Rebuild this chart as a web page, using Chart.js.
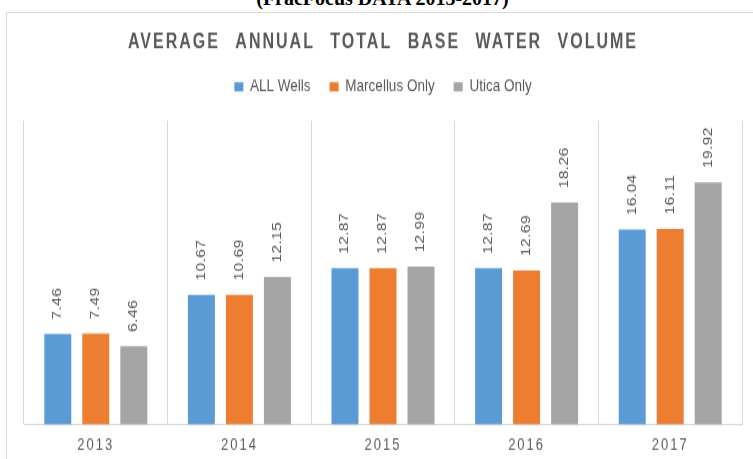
<!DOCTYPE html>
<html>
<head>
<meta charset="utf-8">
<script src="https://cdn.jsdelivr.net/npm/chart.js@4"></script>
<style>
html,body{margin:0;padding:0;background:#fff;overflow:hidden;width:753px;height:459px;position:relative;}
#frame{position:absolute;left:6px;top:12px;width:800px;height:500px;border:1px solid #d9d9d9;box-sizing:border-box;}
#cap{position:absolute;left:6px;width:753px;top:-12.5px;text-align:center;font:bold 20px 'Liberation Serif',serif;line-height:20px;color:#000;white-space:nowrap;}
#wrap{position:absolute;left:0;top:0;width:753px;height:353px;transform-origin:0 0;transform:scaleY(1.3003);}
canvas{display:block;}
</style>
</head>
<body>
<div id="frame"></div>
<div id="cap">(FracFocus DATA 2013-2017)</div>
<div id="wrap"><canvas id="c" width="753" height="353" style="width:753px;height:353px"></canvas></div>
<script>
// ---- data ----
const categories = ['2013', '2014', '2015', '2016', '2017'];
const seriesNames = ['ALL Wells', 'Marcellus Only', 'Utica Only'];
const allWells = [7.46, 10.67, 12.87, 12.87, 16.04];
const marcellusOnly = [7.49, 10.69, 12.87, 12.69, 16.11];
const uticaOnly = [6.46, 12.15, 12.99, 18.26, 19.92];
const titleText = 'AVERAGE ANNUAL TOTAL BASE WATER VOLUME';

// ---- style ----
const FONT = "'Liberation Sans', Arial, sans-serif";
const TEXT_COLOR = '#595959';
const COLORS = ['#5B9BD5', '#ED7D31', '#A5A5A5'];
const LEGEND_GAP = 9.3;
const LABEL_OFFSET = 11;
const XAXIS_HEIGHT = 23.6;

const spacingPlugin = {
  id: 'spacingPlugin',
  beforeInit(chart) {
    if (chart.legend) {
      const origFit = chart.legend.fit;
      chart.legend.fit = function () { origFit.call(this); this.height += LEGEND_GAP; };
    }
    if (chart.titleBlock) {
      const origDraw = chart.titleBlock.draw;
      chart.titleBlock.draw = function (...a) {
        const c = this.ctx; c.save();
        c.letterSpacing = '2px'; c.wordSpacing = '9px';
        origDraw.apply(this, a); c.restore();
      };
    }
  },
  beforeDraw(chart) {
    const x = chart.scales.x;
    if (x && !x._spaced) {
      const orig = x.drawLabels;
      x.drawLabels = function (...a) {
        const c = this.ctx; c.save(); c.letterSpacing = '2px';
        orig.apply(this, a); c.restore();
      };
      x._spaced = true;
    }
  }
};

const valueLabels = {
  id: 'valueLabels',
  afterDatasetsDraw(chart) {
    const c = chart.ctx;
    chart.data.datasets.forEach((ds, i) => {
      const meta = chart.getDatasetMeta(i);
      meta.data.forEach((bar, j) => {
        c.save();
        c.translate(bar.x, bar.y - LABEL_OFFSET);
        c.rotate(-Math.PI / 2);
        c.font = '12px ' + FONT;
        c.letterSpacing = '0.3px';
        c.fillStyle = TEXT_COLOR;
        c.textAlign = 'left';
        c.textBaseline = 'middle';
        c.fillText(ds.data[j].toFixed(2), 0, 0);
        c.restore();
      });
    });
  }
};

const seriesData = [allWells, marcellusOnly, uticaOnly];
new Chart(document.getElementById('c'), {
  type: 'bar',
  data: {
    labels: categories,
    datasets: seriesNames.map((n, i) => ({
      label: n, data: seriesData[i], backgroundColor: COLORS[i], borderWidth: 0
    }))
  },
  options: {
    responsive: false,
    animation: false,
    devicePixelRatio: 1,
    layout: { padding: { left: 24, right: 11, top: 0, bottom: 2.8 } },
    datasets: { bar: { categoryPercentage: 0.794, barPercentage: 0.71 } },
    plugins: {
      title: {
        display: true, text: titleText, color: TEXT_COLOR,
        font: { family: FONT, size: 16, weight: 'bold', lineHeight: 1 },
        padding: { top: 25, bottom: 0 }
      },
      legend: {
        display: true, position: 'top',
        labels: { boxWidth: 9, boxHeight: 7, padding: 19, color: TEXT_COLOR, font: { family: FONT, size: 13.5 } }
      },
      tooltip: { enabled: false }
    },
    scales: {
      x: {
        grid: { display: true, drawTicks: false, color: '#d9d9d9', offset: true },
        border: { display: true, color: '#d9d9d9' },
        ticks: { color: TEXT_COLOR, padding: 8, font: { family: FONT, size: 13 } },
        afterFit(scale) { scale.height = XAXIS_HEIGHT; }
      },
      y: { display: false, min: 0, max: 25 }
    }
  },
  plugins: [spacingPlugin, valueLabels]
});
</script>
</body>
</html>
